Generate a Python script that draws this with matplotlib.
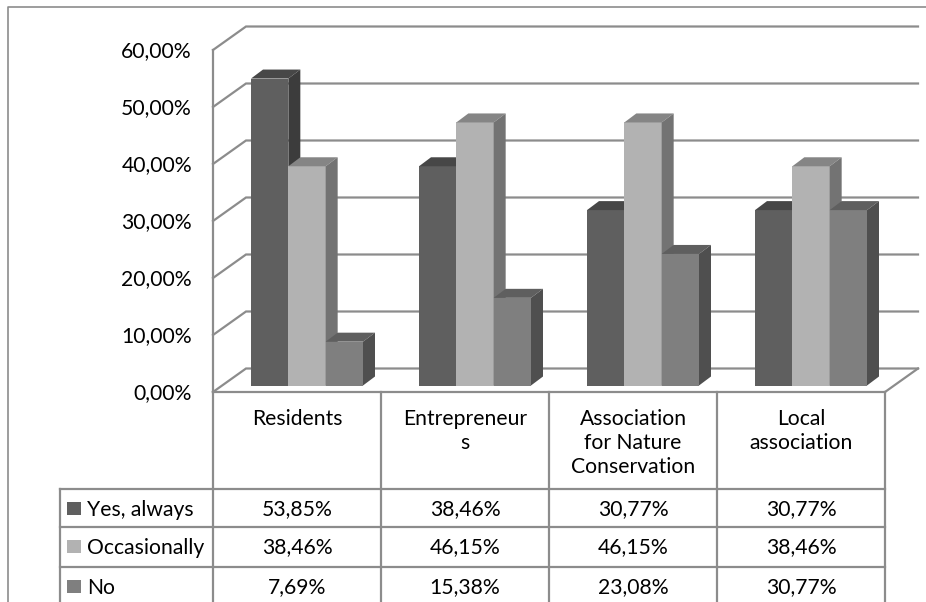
import matplotlib.pyplot as plt
from matplotlib.patches import Polygon, Rectangle

plt.rcParams['font.family'] = ['Lato', 'DejaVu Sans']

# --- data ---
categories = ["Residents", "Entrepreneur\ns", "Association\nfor Nature\nConservation", "Local\nassociation"]
series_names = ["Yes, always", "Occasionally", "No"]
yes_always = [53.85, 38.46, 30.77, 30.77]
occasionally = [38.46, 46.15, 46.15, 38.46]
no_answer = [7.69, 15.38, 23.08, 30.77]
y_ticks = [0, 10, 20, 30, 40, 50, 60]
series_values = [yes_always, occasionally, no_answer]

# front / top / side shades per series
SHADES = [
    ("#5f5f5f", "#474747", "#3c3c3c"),
    ("#b2b2b2", "#858585", "#737373"),
    ("#7f7f7f", "#5f5f5f", "#4f4f4f"),
]
LINE = "#8c8c8c"
FS = 15.2

# --- layout (pixels) ---
W, H = 926, 602
X0, X1 = 213, 885          # front edge of the floor
BASE = 392                 # 0 % on the front plane
PX = 5.7                   # pixels per percentage point
WALL_DX, WALL_DY = 33, -23.5
BAR_DX, BAR_DY = 10, -6.5   # bar front face sits a bit behind the front edge
CAP_DX, CAP_DY = 12, -9     # bar depth
n_cat = len(categories)
col_w = (X1 - X0) / n_cat
bar_w = col_w / 4.5

fig = plt.figure(figsize=(W / 100, H / 100), dpi=100)
ax = fig.add_axes([0, 0, 1, 1])
ax.set_xlim(0, W)
ax.set_ylim(H, 0)
ax.axis("off")


def yv(v):
    return BASE - v * PX


# outer chart border
ax.plot([8, 8, W], [H, 7, 7], color=LINE, lw=1.2, zorder=1)

# back wall gridlines + left wall diagonals
for t in y_ticks:
    yf = yv(t)
    yb = yf + WALL_DY
    ax.plot([X0, X0 + WALL_DX, X1 + WALL_DX], [yf, yb, yb], color=LINE, lw=1.6, zorder=1,
            solid_joinstyle="miter")
    ax.text(192, yf + 1, f"{t},00%", ha="right", va="center", fontsize=FS)
ax.plot([X0, X0], [BASE, yv(max(y_ticks))], color=LINE, lw=1.6, zorder=1)
# floor right edge
ax.plot([X1, X1 + WALL_DX], [BASE, BASE + WALL_DY], color=LINE, lw=1.6, zorder=1)

# 3D columns
for i in range(n_cat):
    center = X0 + (i + 0.5) * col_w
    left0 = center - 1.5 * bar_w + BAR_DX
    for s, vals in enumerate(series_values):
        front, top, side = SHADES[s]
        xl = left0 + s * bar_w
        xr = xl + bar_w
        yb = BASE + BAR_DY
        yt = yb - vals[i] * PX
        z = 3 + i * 3 + s
        ax.add_patch(Polygon([(xl, yb), (xr, yb), (xr, yt), (xl, yt)], closed=True,
                             facecolor=front, edgecolor="none", zorder=z))
        ax.add_patch(Polygon([(xl, yt), (xr, yt), (xr + CAP_DX, yt + CAP_DY), (xl + CAP_DX, yt + CAP_DY)],
                             closed=True, facecolor=top, edgecolor="none", zorder=z))
        ax.add_patch(Polygon([(xr, yb), (xr, yt), (xr + CAP_DX, yt + CAP_DY), (xr + CAP_DX, yb + CAP_DY)],
                             closed=True, facecolor=side, edgecolor="none", zorder=z))

# --- data table ---
row_tops = [489, 527, 567]
row_h = 39
leg_x0 = 60

ax.plot([X0, X1], [BASE, BASE], color=LINE, lw=1.6, zorder=20)
for k in range(n_cat + 1):
    ax.plot([X0 + k * col_w] * 2, [BASE, H], color=LINE, lw=1.6, zorder=20)
ax.plot([leg_x0, leg_x0], [row_tops[0], H], color=LINE, lw=1.6, zorder=20)
for r in row_tops:
    ax.plot([leg_x0, X1], [r, r], color=LINE, lw=1.6, zorder=20)

# category names, one line at a time (24 px apart)
for i, cat in enumerate(categories):
    for j, line in enumerate(cat.split("\n")):
        ax.text(X0 + (i + 0.5) * col_w, 419 + 24 * j, line, ha="center", va="center",
                fontsize=FS, zorder=21)

for s, name in enumerate(series_names):
    yc = row_tops[s] + row_h / 2
    ax.add_patch(Rectangle((67, yc - 6.5), 14, 13, facecolor=SHADES[s][0], edgecolor="none", zorder=21))
    ax.text(87, yc + 1, name, ha="left", va="center", fontsize=FS, zorder=21)
    for i in range(n_cat):
        ax.text(X0 + (i + 0.5) * col_w, yc + 1, f"{series_values[s][i]:.2f}%".replace(".", ","),
                ha="center", va="center", fontsize=FS, zorder=21)

fig.savefig("out.png", dpi=100)
